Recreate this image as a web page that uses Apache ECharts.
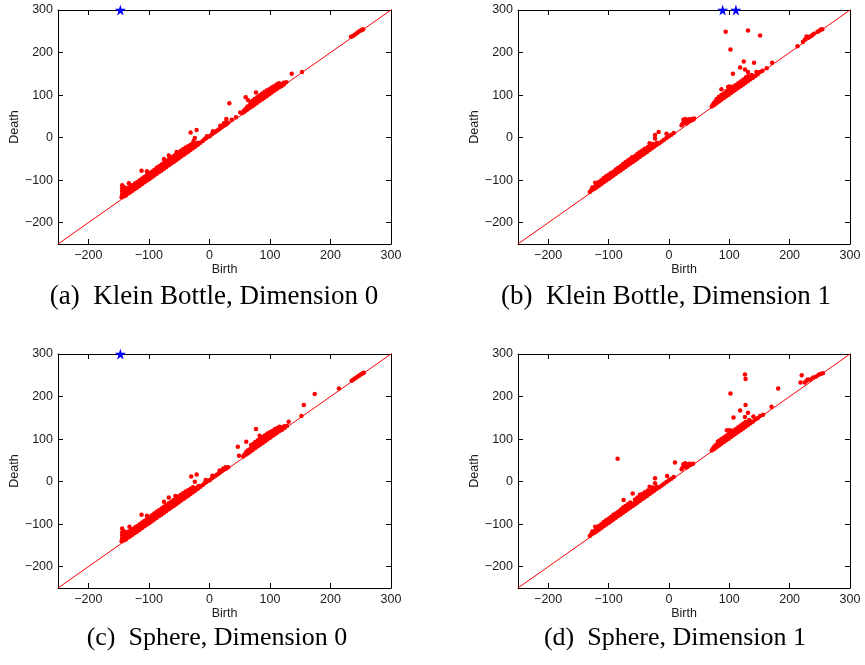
<!DOCTYPE html>
<html>
<head>
<meta charset="utf-8">
<script src="https://cdn.jsdelivr.net/npm/echarts@6/dist/echarts.min.js"></script>
<style>
  html, body { margin: 0; padding: 0; background: #fff; }
  #main { width: 865px; height: 665px; }
</style>
</head>
<body>
<div id="main"></div>
<script>
// axis settings shared by all four diagrams
var axisMin = -250;
var axisMax = 300;
var tickValues = [-200, -100, 0, 100, 200, 300];
var diagonal = [[-250, -250], [300, 300]];

var captions = [
  '(a)  Klein Bottle, Dimension 0',
  '(b)  Klein Bottle, Dimension 1',
  '(c)  Sphere, Dimension 0',
  '(d)  Sphere, Dimension 1'
];

// points that never die, drawn as stars on the top edge
var kleinDim0Inf = [-147];
var kleinDim1Inf = [89, 111];
var sphereDim0Inf = [-147];
var sphereDim1Inf = [];

// [birth, death] pairs
var kleinDim0 = [
  [-145,-140],[-144,-133],[-144,-126],[-144,-119],[-144,-112],
  [-141,-138],[-141,-131],[-141,-124],[-140,-117],
  [-138,-136],[-138,-129],[-138,-122],
  [-135,-132],[-135,-125],[-134,-118],[-133,-107],
  [-131,-129],[-131,-122],[-130,-115],
  [-127,-125],[-127,-118],[-127,-112],
  [-123,-121],[-123,-114],[-123,-108],
  [-119,-117],[-119,-110],[-119,-104],
  [-115,-113],[-115,-106],[-115,-100],[-112,-78],
  [-111,-109],[-111,-102],[-111,-96],
  [-107,-105],[-107,-98],[-107,-92],
  [-103,-101],[-103,-94],[-103,-88],[-103,-79],
  [-99,-97],[-99,-90],[-99,-84],
  [-95,-93],[-95,-86],[-95,-80],
  [-91,-89],[-91,-82],[-91,-76],
  [-87,-85],[-87,-78],[-87,-71],
  [-83,-81],[-83,-74],[-83,-67],
  [-79,-77],[-79,-70],[-79,-63],
  [-75,-73],[-75,-66],[-75,-59],[-75,-50],
  [-71,-69],[-71,-62],[-71,-55],
  [-67,-65],[-67,-58],[-67,-51],[-67,-42],
  [-63,-61],[-63,-54],[-63,-47],
  [-59,-57],[-59,-50],[-59,-43],
  [-55,-53],[-55,-46],[-55,-39],[-54,-34],
  [-51,-49],[-51,-42],[-51,-35],
  [-47,-45],[-47,-38],[-47,-31],
  [-43,-41],[-43,-34],[-43,-27],
  [-39,-37],[-39,-30],[-39,-23],
  [-35,-33],[-35,-27],[-35,-20],
  [-31,-29],[-31,-23],[-31,-17],[-31,12],
  [-27,-25],[-27,-19],[-27,-13],[-26,-8],
  [-23,-21],[-23,-16],[-24,-1],[-21,18],
  [-19,-17],[-19,-12],
  [-15,-12],[-11,-8],[-8,-4],[-5,-1],[-2,2],[-4,3],
  [1,4],[4,8],[7,11],[6,15],[10,14],[13,17],[16,20],[19,23],[18,28],
  [22,26],[25,29],[24,34],[28,31],[28,37],[31,35],[28,44],[33,81],
  [37,42],[44,48],[51,59],
  [55,58],[57,63],[59,62],[60,68],[60,95],[64,88],[63,66],[63,73],
  [67,70],[67,77],[68,84],
  [71,74],[71,80],[72,87],
  [75,78],[75,84],[75,91],[77,106],
  [79,82],[79,88],[79,95],
  [83,86],[83,92],[83,99],
  [87,90],[87,96],[87,103],
  [91,94],[91,100],[91,107],
  [95,98],[95,104],[95,111],
  [99,102],[99,108],[99,114],
  [103,106],[103,111],[103,118],
  [107,110],[107,115],[107,121],
  [111,114],[111,119],[111,125],
  [115,118],[115,123],[115,128],
  [119,121],[119,126],
  [123,125],[123,129],[127,130],
  [136,150],[153,154],
  [234,237],[237,239],[240,242],[243,245],[246,248],[249,251],[252,253],[254,255]
];

var kleinDim1 = [
  [-131,-128],[-129,-124],[-127,-122],[-127,-117],[-122,-106],
  [-124,-121],[-123,-116],
  [-120,-117],[-120,-112],
  [-116,-113],[-116,-108],[-116,-104],
  [-112,-109],[-112,-104],[-112,-100],
  [-108,-105],[-108,-100],[-108,-95],
  [-104,-101],[-104,-96],[-104,-91],
  [-100,-97],[-100,-92],[-100,-87],
  [-96,-93],[-96,-88],[-96,-83],
  [-92,-89],[-92,-84],[-92,-80],
  [-88,-85],[-88,-80],[-88,-75],
  [-84,-81],[-84,-76],[-84,-71],
  [-80,-77],[-80,-72],[-80,-67],
  [-76,-73],[-76,-68],[-76,-62],
  [-72,-69],[-72,-64],[-72,-58],
  [-68,-65],[-68,-60],[-68,-54],
  [-64,-61],[-64,-56],[-64,-50],
  [-60,-57],[-60,-52],[-61,-46],
  [-56,-53],[-56,-48],[-56,-43],
  [-52,-49],[-52,-44],[-52,-38],
  [-48,-45],[-48,-40],[-48,-34],
  [-44,-41],[-44,-36],[-44,-30],
  [-40,-37],[-40,-32],[-40,-26],
  [-36,-33],[-36,-28],[-35,-22],
  [-32,-29],[-32,-24],[-32,-13],
  [-28,-25],[-28,-20],[-27,-15],
  [-24,-21],[-24,-16],[-23,-2],[-23,6],
  [-20,-17],[-20,-12],[-17,13],
  [-16,-13],[-12,-9],[-8,-5],[-4,-1],[-4,9],[0,3],[4,7],[8,11],
  [21,29],[23,33],[24,42],[26,37],[27,44],[29,33],[30,40],[32,36],
  [33,43],[35,39],[37,41],[38,44],[40,42],[42,45],
  [71,73],[73,78],[75,77],[75,82],[77,85],
  [79,81],[79,86],[79,91],
  [83,85],[83,90],[83,96],
  [87,89],[87,94],[87,100],[87,114],
  [91,93],[91,98],[91,104],
  [95,97],[95,102],[95,109],
  [99,101],[99,106],[99,112],[98,119],[101,120],
  [103,105],[103,110],[103,116],
  [107,109],[107,114],[107,120],[106,150],
  [111,113],[111,118],[111,124],
  [115,117],[115,122],[115,128],[118,165],
  [119,121],[119,126],[119,132],
  [123,125],[123,130],[123,136],[124,179],[126,160],[131,154],[128,142],
  [127,129],[127,134],[127,140],
  [131,133],[131,138],[131,144],
  [135,137],[135,142],[137,147],
  [139,141],[139,145],[141,176],[145,154],
  [143,145],[147,149],[151,154],[155,157],[162,163],[171,176],
  [94,249],[102,207],[131,252],[151,240],
  [213,215],[222,225],[225,230],[228,238],[231,235],[234,238],[237,240],
  [240,244],[246,248],[249,251],[252,254],[254,255]
];

var sphereDim0 = [
  [-145,-140],[-144,-133],[-144,-126],[-144,-119],[-144,-110],
  [-141,-138],[-141,-131],[-141,-124],[-140,-117],
  [-138,-136],[-138,-129],[-138,-122],
  [-135,-132],[-135,-125],[-134,-118],[-132,-106],
  [-131,-129],[-131,-122],[-130,-115],
  [-127,-125],[-127,-118],[-127,-112],
  [-123,-121],[-123,-114],[-123,-108],
  [-119,-117],[-119,-110],[-119,-104],
  [-115,-113],[-115,-106],[-115,-100],[-112,-78],
  [-111,-109],[-111,-102],[-111,-96],
  [-107,-105],[-107,-98],[-107,-92],
  [-103,-101],[-103,-94],[-103,-88],[-103,-80],
  [-99,-97],[-99,-90],[-99,-84],
  [-95,-93],[-95,-86],[-95,-79],
  [-91,-89],[-91,-82],[-91,-75],
  [-87,-85],[-87,-78],[-87,-71],
  [-83,-81],[-83,-74],[-83,-67],
  [-79,-77],[-79,-70],[-79,-63],
  [-75,-73],[-75,-66],[-75,-59],[-75,-47],
  [-71,-69],[-71,-62],[-71,-55],
  [-67,-65],[-67,-58],[-67,-51],[-67,-37],
  [-63,-61],[-63,-54],[-63,-47],
  [-59,-57],[-59,-50],[-59,-43],
  [-55,-53],[-55,-46],[-55,-39],[-56,-34],
  [-51,-49],[-51,-42],[-51,-35],
  [-47,-45],[-47,-38],[-47,-31],
  [-43,-41],[-43,-34],[-43,-27],
  [-39,-37],[-39,-30],[-39,-23],
  [-35,-33],[-35,-27],[-35,-20],
  [-31,-29],[-31,-23],[-31,-17],[-30,12],
  [-27,-25],[-27,-19],[-27,-13],
  [-23,-21],[-23,-16],[-24,0],[-21,17],
  [-19,-17],[-19,-12],[-17,-10],
  [-15,-12],[-11,-8],[-8,-4],[-5,-1],[-2,2],[-6,4],
  [1,4],[4,8],[7,11],[5,14],[10,14],[13,17],[16,20],[19,23],[17,26],
  [22,26],[25,29],[23,31],[28,31],[27,34],[31,34],
  [47,82],[49,61],
  [56,59],[58,64],[60,63],[61,94],[61,70],[64,67],[64,74],
  [68,71],[68,78],[69,86],
  [72,75],[72,82],[73,89],
  [76,79],[76,86],[77,124],[76,93],
  [80,83],[80,90],[80,97],
  [83,108],[84,87],[84,94],[84,101],
  [88,91],[88,98],[88,105],
  [92,95],[92,102],[92,109],
  [96,99],[96,106],[96,113],
  [100,103],[100,110],[100,116],
  [104,107],[104,113],[104,119],
  [108,111],[108,117],[108,123],
  [112,115],[112,120],[112,126],
  [116,119],[116,124],[116,129],
  [120,122],[120,127],
  [124,126],[124,130],[128,131],[131,141],
  [152,154],[156,180],[174,206],[214,219],
  [235,237],[238,240],[241,243],[244,246],[247,249],[250,252],[253,254],[255,256]
];

var sphereDim1 = [
  [-131,-128],[-129,-124],[-127,-122],[-127,-117],[-122,-106],
  [-124,-121],[-123,-116],
  [-120,-117],[-120,-112],
  [-116,-113],[-116,-108],[-116,-104],
  [-112,-109],[-112,-104],[-112,-100],
  [-108,-105],[-108,-100],[-108,-95],
  [-104,-101],[-104,-96],[-104,-91],
  [-100,-97],[-100,-92],[-100,-87],
  [-96,-93],[-96,-88],[-96,-83],
  [-92,-89],[-92,-84],[-92,-78],
  [-88,-85],[-88,-80],[-88,-75],[-85,54],
  [-84,-81],[-84,-76],[-84,-71],
  [-80,-77],[-80,-72],[-80,-66],
  [-76,-73],[-76,-68],[-76,-61],[-75,-43],
  [-72,-69],[-72,-64],[-72,-57],
  [-68,-65],[-68,-60],[-68,-53],
  [-64,-61],[-64,-56],[-64,-49],
  [-60,-57],[-60,-52],[-60,-28],
  [-56,-53],[-56,-48],[-56,-42],
  [-52,-49],[-52,-44],[-52,-37],
  [-48,-45],[-48,-40],[-48,-31],
  [-44,-41],[-44,-36],[-44,-29],
  [-40,-37],[-40,-32],[-40,-25],
  [-36,-33],[-36,-28],[-35,-21],
  [-32,-29],[-32,-24],[-32,-12],
  [-28,-25],[-28,-20],[-27,-14],
  [-24,-21],[-24,-16],[-23,8],[-23,-4],
  [-20,-17],[-20,-12],
  [-16,-13],[-12,-9],[-8,-5],[-4,-1],[-3,13],[0,3],[4,7],[8,11],
  [10,45],[21,29],[23,33],[24,41],[26,37],[27,43],[29,33],[30,40],
  [32,36],[34,42],[35,39],[37,41],[40,42],
  [71,73],[73,78],[75,77],[75,82],[77,85],
  [79,81],[79,86],[81,94],
  [83,85],[83,90],[83,96],
  [87,89],[87,94],[87,100],
  [91,93],[91,98],[91,104],
  [95,97],[95,102],[95,108],[96,121],[101,121],
  [99,101],[99,106],[99,112],
  [103,105],[103,110],[103,116],
  [107,109],[107,114],[107,120],[107,151],
  [111,113],[111,118],[111,124],
  [115,117],[115,122],[115,128],[118,167],
  [119,121],[119,126],[119,132],
  [123,125],[123,130],[123,136],[127,180],[131,162],[126,152],
  [127,129],[127,134],[127,140],
  [131,133],[131,138],[133,145],
  [135,137],[135,142],[140,153],
  [139,141],[143,146],[147,149],[151,154],[156,157],[170,176],
  [102,207],[126,252],[127,241],[181,219],
  [218,233],[220,250],[225,233],[228,237],[230,240],[234,240],[239,245],
  [244,247],[248,251],[251,253],[255,255]
];

var diagrams = [
  { points: kleinDim0, inf: kleinDim0Inf },
  { points: kleinDim1, inf: kleinDim1Inf },
  { points: sphereDim0, inf: sphereDim0Inf },
  { points: sphereDim1, inf: sphereDim1Inf }
];

var boxes = [
  { left: 58, top: 10, width: 333, height: 234 },
  { left: 518, top: 10, width: 332, height: 234 },
  { left: 58, top: 354, width: 333, height: 234 },
  { left: 518, top: 354, width: 332, height: 234 }
];
var captionPos = [[214, 297], [666, 297], [217, 638], [675, 638]];
var captionSize = [27, 27, 26, 26];

var starPath = 'path://M50,0 L61,35 L98,35 L68,57 L79,91 L50,70 L21,91 L32,57 L2,35 L39,35 Z';
var labelFont = 'Liberation Sans';

function minusSign(v) {
  return String(v).replace('-', '\u2212');
}

function makeAxis(idx, pos, withLabels, name) {
  var ax = {
    type: 'value',
    gridIndex: idx,
    position: pos,
    min: axisMin,
    max: axisMax,
    axisLine: { show: true, onZero: false, lineStyle: { color: '#000', width: 1 } },
    axisTick: { show: true, inside: true, length: 5, customValues: tickValues,
                lineStyle: { color: '#000', width: 1 } },
    axisLabel: { show: withLabels, customValues: tickValues, formatter: minusSign,
                 color: '#1a1a1a', fontSize: 12.5, fontFamily: labelFont, margin: 5 },
    splitLine: { show: false }
  };
  if (name) {
    ax.name = name;
    ax.nameLocation = 'middle';
    ax.nameTextStyle = { color: '#1a1a1a', fontSize: 12.5, fontFamily: labelFont };
    ax.nameGap = (pos === 'bottom') ? 18 : 32;
  }
  return ax;
}

var grid = [], xAxis = [], yAxis = [], series = [], graphic = [];

for (var i = 0; i < 4; i++) {
  grid.push({ left: boxes[i].left, top: boxes[i].top, width: boxes[i].width,
              height: boxes[i].height, containLabel: false, outerBoundsMode: 'none' });
  xAxis.push(makeAxis(i, 'bottom', true, 'Birth'));
  xAxis.push(makeAxis(i, 'top', false));
  yAxis.push(makeAxis(i, 'left', true, 'Death'));
  yAxis.push(makeAxis(i, 'right', false));

  // 对角线
  series.push({
    type: 'line',
    xAxisIndex: 2 * i,
    yAxisIndex: 2 * i,
    data: diagonal,
    symbol: 'none',
    silent: true,
    lineStyle: { color: '#ff0000', width: 1 },
    z: 1
  });
  series.push({
    type: 'scatter',
    xAxisIndex: 2 * i,
    yAxisIndex: 2 * i,
    data: diagrams[i].points,
    symbolSize: 4.5,
    itemStyle: { color: '#ff0000', opacity: 1 },
    z: 2
  });
  var starData = diagrams[i].inf.map(function (b) { return [b, axisMax]; });
  series.push({
    type: 'scatter',
    xAxisIndex: 2 * i,
    yAxisIndex: 2 * i,
    data: starData,
    symbol: starPath,
    symbolSize: 11,
    clip: false,
    itemStyle: { color: '#0000ff', opacity: 1 },
    z: 3
  });

  graphic.push({
    type: 'text',
    x: captionPos[i][0],
    y: captionPos[i][1],
    style: {
      text: captions[i],
      font: captionSize[i] + 'px "Liberation Serif"',
      fill: '#000',
      align: 'center',
      verticalAlign: 'middle'
    }
  });
}

var option = {
  animation: false,
  backgroundColor: '#fff',
  grid: grid,
  xAxis: xAxis,
  yAxis: yAxis,
  series: series,
  graphic: graphic
};

var myChart = echarts.init(document.getElementById('main'));
myChart.setOption(option);
</script>
</body>
</html>
